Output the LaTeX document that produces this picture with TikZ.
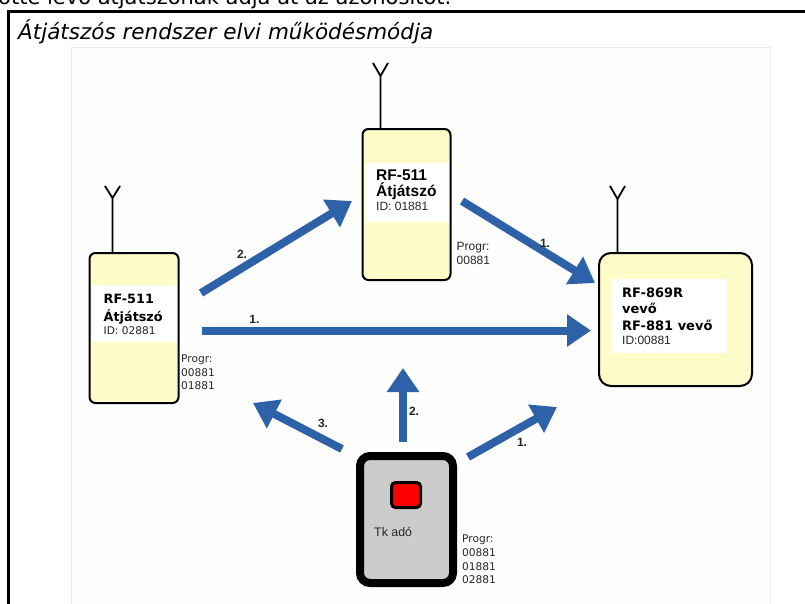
\documentclass[tikz,border=0pt]{standalone}
\usepackage{fontspec}
\setmainfont{DejaVu Sans}
\newfontfamily\arialf{Liberation Sans}
\usetikzlibrary{arrows.meta}
\definecolor{arrowblue}{HTML}{2E62A8}
\definecolor{boxyellow}{HTML}{FDFBC8}
\tikzset{
  x=1pt,y=-1pt,
  unitbox/.style={draw=black,line width=2pt,fill=boxyellow,rounded corners=6pt,inner sep=0pt},
  band/.style={fill=white,inner sep=0pt},
  txt/.style={anchor=base west,inner sep=0pt,text=black!85},
  hd/.style={txt,font=\fontsize{12.8}{14}\selectfont\bfseries,text=black},
  hdb/.style={txt,font=\arialf\fontsize{15.5}{17}\selectfont\bfseries,text=black},
  sm/.style={txt,font=\fontsize{10.6}{12}\selectfont},
  sma/.style={txt,font=\arialf\fontsize{12}{14}\selectfont},
  num/.style={inner sep=0pt,font=\arialf\fontsize{12}{14}\selectfont\bfseries,text=black!85},
  sig/.style={draw=arrowblue,line width=8pt,-{Triangle[length=24pt,width=31pt]}},
  ant/.style={draw=black,line width=1.8pt,line join=miter},
}
\begin{document}
\begin{tikzpicture}
\useasboundingbox (0,0) rectangle (805,603);
\clip (0,0) rectangle (805,603);
\node[anchor=base west,inner sep=0pt,font=\fontsize{21}{24}\selectfont] (cut) at (-2,4) {otte lévő átjátszónak adja át az azonosítót.};
\draw[black,line width=3pt] (8.5,620) -- (8.5,11) -- (820,11);
\node[anchor=base west,inner sep=0pt,font=\fontsize{21.5}{25}\selectfont\itshape] (title) at (18,39.5) {Átjátszós rendszer elvi működésmódja};
\draw[draw=black!8,fill=black!0.5,line width=1pt] (71.5,620) -- (71.5,47.5) -- (770.5,47.5) -- (770.5,620);

% left repeater
\node[unitbox,minimum width=89pt,minimum height=150pt] (left) at (134,328) {};
\node[band,minimum width=85pt,minimum height=57pt] (leftband) at (134.5,313.5) {};
\coordinate (leftant) at (112.5,198);
\draw[ant] (left.north -| leftant) -- (leftant) -- (105,186) (leftant) -- (120,186);
\node[hd] (l1) at (103.5,303) {RF-511};
\node[hd] (l2) at (103.5,321) {Átjátszó};
\node[sm] (l3) at (103.5,334) {ID: 02881};
\node[sm] (l4) at (181,362) {Progr:};
\node[sm] (l5) at (181,376) {00881};
\node[sm] (l6) at (181,389) {01881};

% middle repeater
\node[unitbox,minimum width=88pt,minimum height=151pt] (mid) at (406.5,204.5) {};
\node[band,minimum width=84pt,minimum height=59pt] (midband) at (407,192.5) {};
\coordinate (midant) at (380.5,76);
\draw[ant] (mid.north -| midant) -- (midant) -- (373,63) (midant) -- (388,63);
\node[hdb] (m1) at (376,180) {RF-511};
\node[hdb] (m2) at (376,196) {Átjátszó};
\node[sma] (m3) at (376,210) {ID: 01881};
\node[sma] (m4) at (456.5,250) {Progr:};
\node[sma] (m5) at (456.5,264) {00881};

% receiver
\node[unitbox,rounded corners=12pt,minimum width=153pt,minimum height=133pt] (recv) at (675.5,319.5) {};
\node[band,minimum width=116pt,minimum height=74pt] (recvband) at (669,316) {};
\coordinate (recvant) at (617.5,199);
\draw[ant] (recv.north -| recvant) -- (recvant) -- (610,186) (recvant) -- (625,186);
\node[hd,font=\fontsize{13}{15}\selectfont\bfseries] (r1) at (622,297) {RF-869R};
\node[hd,font=\fontsize{13}{15}\selectfont\bfseries] (r2) at (622,313) {vevő};
\node[hd,font=\fontsize{13}{15}\selectfont\bfseries] (r3) at (622,330) {RF-881 vevő};
\node[sma] (r4) at (622,344) {ID:00881};

% transmitter
\node[draw=black,line width=8pt,fill=black!20,rounded corners=10pt,minimum width=93pt,minimum height=127pt,inner sep=0pt] (tx) at (406.5,519.5) {};
\node[draw=black,line width=3pt,fill=red,rounded corners=4pt,minimum width=29pt,minimum height=25pt,inner sep=0pt] (btn) at (406,495) {};
\node[sma,font=\arialf\fontsize{12.4}{14}\selectfont] (t0) at (374,536) {Tk adó};
\node[sm] (t1) at (462,542) {Progr:};
\node[sm] (t2) at (462,556) {00881};
\node[sm] (t3) at (462,570) {01881};
\node[sm] (t4) at (462,583) {02881};

% arrows
\coordinate (a1s) at (201,293); \coordinate (a1t) at (352,201);
\coordinate (a2s) at (462,201); \coordinate (a2t) at (595,283);
\coordinate (a3s) at (202,330.5); \coordinate (a3t) at (591,330.5);
\coordinate (a4s) at (403,442); \coordinate (a4t) at (403,368);
\coordinate (a5s) at (342,449); \coordinate (a5t) at (253,403);
\coordinate (a6s) at (468,457); \coordinate (a6t) at (557,407);
\draw[sig] (a1s) -- (a1t);
\draw[sig] (a2s) -- (a2t);
\draw[sig] (a3s) -- (a3t);
\draw[sig] (a4s) -- (a4t);
\draw[sig] (a5s) -- (a5t);
\draw[sig] (a6s) -- (a6t);

\node[num] (n1) at (242,254) {2.};
\node[num] (n2) at (254.5,319) {1.};
\node[num] (n3) at (545,243) {1.};
\node[num] (n4) at (323,423) {3.};
\node[num] (n5) at (414,411) {2.};
\node[num] (n6) at (522,442) {1.};
\end{tikzpicture}
\end{document}
